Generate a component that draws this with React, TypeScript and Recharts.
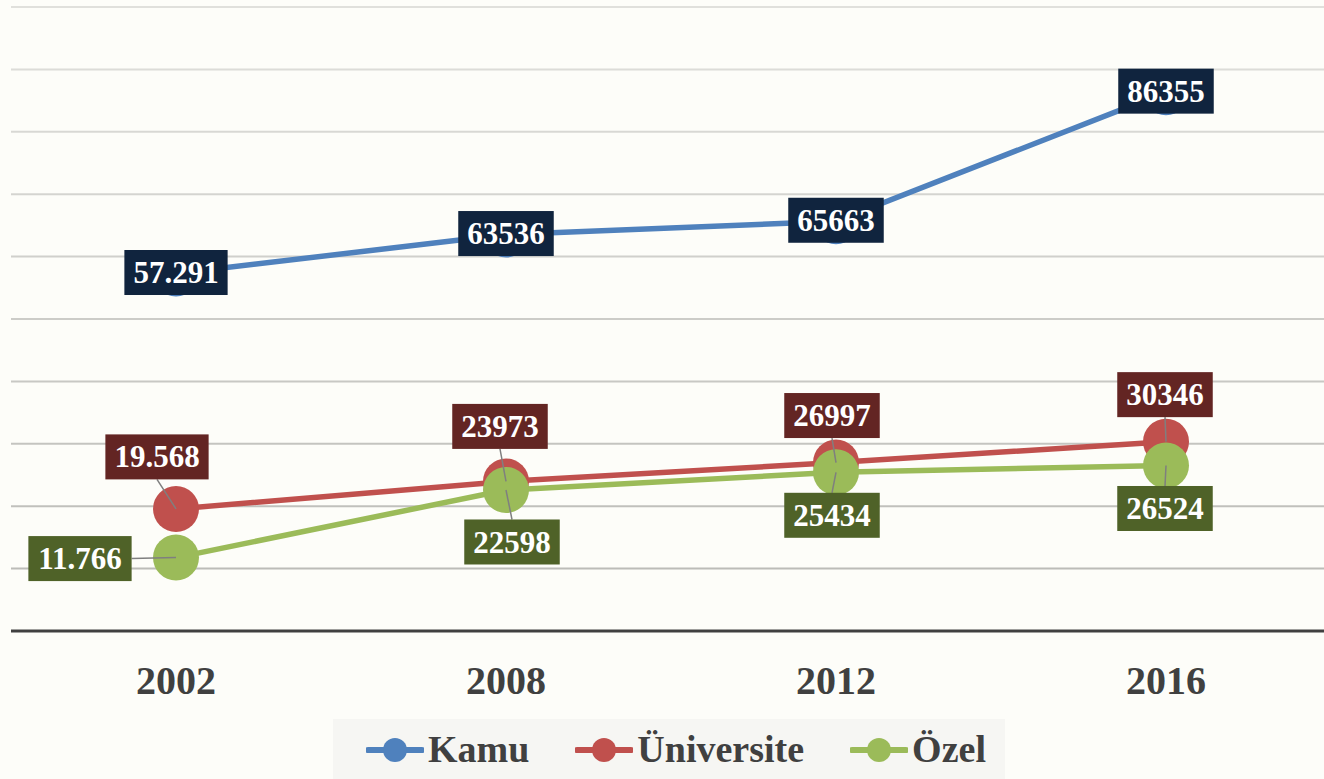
import React from 'react';
import { LineChart, Line, XAxis, YAxis, CartesianGrid, Legend, LabelList } from 'recharts';

const years = ['2002', '2008', '2012', '2016'];
const kamu = [57291, 63536, 65663, 86355];
const universite = [19568, 23973, 26997, 30346];
const ozel = [11766, 22598, 25434, 26524];
const yTicks = [0, 10000, 20000, 30000, 40000, 50000, 60000, 70000, 80000, 90000, 100000];
const seriesOrder = ['Kamu', 'Üniversite', 'Özel'];

// label box offsets from the point (box centre), per category
const kamuOffsets = [[0, -1], [0, -1], [0, -1], [0, -1]];
const univOffsets = [[-19, -52], [-6, -55], [-4, -47], [-1, -47]];
const ozelOffsets = [[-96, 1], [6, 52], [-4, 43], [-1, 43]];

const data = years.map((year, i) => ({
  year,
  Kamu: kamu[i],
  'Üniversite': universite[i],
  'Özel': ozel[i],
}));

const FONT = '"Liberation Serif", "Times New Roman", serif';
const LABEL_FS = 31;

// first year is written with a thousands dot in the original
const fmt = (v: number, i: number) =>
  i === 0 ? String(v).replace(/\B(?=(\d{3})+(?!\d))/g, '.') : String(v);

const makeLabel = (bg: string, offsets: number[][]) => (props: any) => {
  const { x, y, value, index } = props;
  if (x == null || y == null) return null;
  const text = fmt(Number(value), index);
  const dots = (text.match(/\./g) || []).length;
  const w = (text.length - dots) * LABEL_FS * 0.5 + dots * LABEL_FS * 0.25 + 18;
  const h = 45;
  const [dx, dy] = offsets[index] || [0, 0];
  const cx = x + dx;
  const cy = y + dy;
  let leader: React.ReactNode = null;
  if (dy < -h / 2) {
    leader = <line x1={cx} y1={cy + h / 2} x2={x} y2={y} stroke="#7f7f7f" strokeWidth={1.5} />;
  } else if (dy > h / 2) {
    leader = <line x1={x} y1={y} x2={cx} y2={cy - h / 2} stroke="#7f7f7f" strokeWidth={1.5} />;
  } else if (dx < -w / 2) {
    leader = <line x1={cx + w / 2} y1={cy} x2={x} y2={y} stroke="#7f7f7f" strokeWidth={1.5} />;
  }
  return (
    <g>
      {leader}
      <rect x={cx - w / 2} y={cy - h / 2} width={w} height={h} fill={bg} />
      <text
        x={cx}
        y={cy + LABEL_FS * 0.34}
        textAnchor="middle"
        fill="#ffffff"
        fontFamily={FONT}
        fontWeight="bold"
        fontSize={LABEL_FS}
      >
        {text}
      </text>
    </g>
  );
};

const YearTick = (props: any) => {
  const { x, y, payload } = props;
  return (
    <text x={x} y={y + 63} textAnchor="middle" fill="#404040" fontFamily={FONT} fontWeight="bold" fontSize={40}>
      {payload.value}
    </text>
  );
};

const gridLine = (props: any) => {
  const { x1, x2, y1, y2 } = props;
  const t = Math.max(0, Math.min(1, (y1 - 7) / 624));
  const c = Math.round(224 - t * 40);
  return <line key={`g-${y1}`} x1={x1} x2={x2} y1={y1} y2={y2} stroke={`rgb(${c},${c},${c - 4})`} strokeWidth={2} />;
};

const LegendContent = (props: any) => {
  const items = [...(props.payload || [])].sort(
    (a: any, b: any) => seriesOrder.indexOf(a.value) - seriesOrder.indexOf(b.value)
  );
  return (
    <div
      style={{
        display: 'flex',
        alignItems: 'center',
        height: 60,
        paddingLeft: 33,
        boxSizing: 'border-box',
        background: '#f6f6f3',
        fontFamily: FONT,
        fontWeight: 'bold',
        fontSize: 38,
        color: '#404040',
      }}
    >
      {items.map((entry: any) => (
        <div key={entry.value} style={{ display: 'flex', alignItems: 'center', marginRight: 46 }}>
          <svg width={58} height={30}>
            <line x1={2} y1={16} x2={56} y2={16} stroke={entry.color} strokeWidth={6} strokeLinecap="round" />
            <circle cx={29} cy={16} r={12} fill={entry.color} />
          </svg>
          <span style={{ marginLeft: 4, lineHeight: '60px' }}>{entry.value}</span>
        </div>
      ))}
    </div>
  );
};

export default function App() {
  return (
    <div
      style={{
        position: 'absolute',
        left: 0,
        top: 0,
        width: 1324,
        height: 779,
        overflow: 'hidden',
        background: '#fdfdf9',
      }}
    >
      <LineChart width={1340} height={779} data={data} margin={{ top: 7, right: 9, left: 11, bottom: 68 }}>
        <CartesianGrid vertical={false} horizontal={gridLine} />
        <YAxis hide domain={[0, 100000]} ticks={yTicks} />
        <XAxis
          dataKey="year"
          height={80}
          padding={{ left: 165, right: 165 }}
          tickLine={false}
          tickSize={0}
          tickMargin={0}
          axisLine={{ stroke: '#404040', strokeWidth: 3 }}
          tick={<YearTick />}
        />
        <Legend
          layout="horizontal"
          verticalAlign="middle"
          align="center"
          wrapperStyle={{ left: 333, top: 719, width: 672, height: 60 }}
          content={<LegendContent />}
        />
        <Line
          dataKey="Kamu"
          stroke="#4f81bd"
          strokeWidth={5.5}
          dot={{ r: 23, fill: '#4f81bd', stroke: 'none' }}
          activeDot={false}
          isAnimationActive={false}
        >
          <LabelList dataKey="Kamu" content={makeLabel('#10243e', kamuOffsets)} />
        </Line>
        <Line
          dataKey="Üniversite"
          stroke="#c0504d"
          strokeWidth={5.5}
          dot={{ r: 23, fill: '#c0504d', stroke: 'none' }}
          activeDot={false}
          isAnimationActive={false}
        >
          <LabelList dataKey="Üniversite" content={makeLabel('#632523', univOffsets)} />
        </Line>
        <Line
          dataKey="Özel"
          stroke="#9bbb59"
          strokeWidth={5.5}
          dot={{ r: 23, fill: '#9bbb59', stroke: 'none' }}
          activeDot={false}
          isAnimationActive={false}
        >
          <LabelList dataKey="Özel" content={makeLabel('#4f6228', ozelOffsets)} />
        </Line>
      </LineChart>
    </div>
  );
}
